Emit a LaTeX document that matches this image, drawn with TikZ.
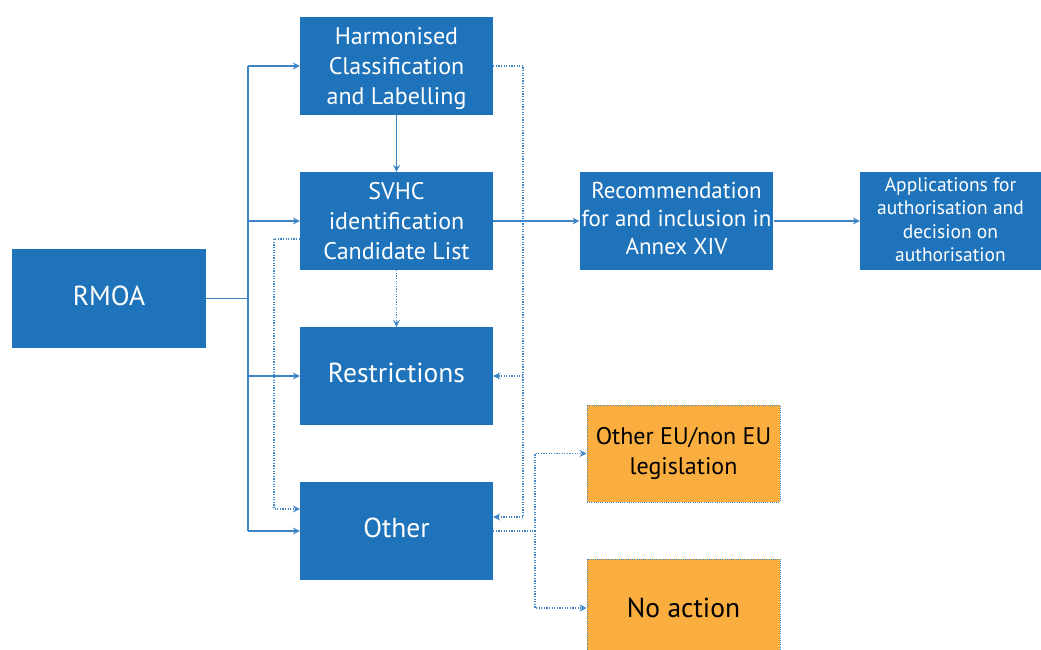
\documentclass[tikz,border=0pt]{standalone}
\usepackage{fontspec}
\setmainfont{PT Sans}
\usetikzlibrary{arrows.meta}
\definecolor{boxblue}{HTML}{1F73BA}
\definecolor{lineblue}{HTML}{3D85C6}
\definecolor{boxorange}{HTML}{FAAE40}
% move a block of centred lines up or down without changing its size
\newcommand{\liftlines}[2]{\raisebox{#1}[\height][\depth]{\begin{tabular}{@{}c@{}}#2\end{tabular}}}
\tikzset{
  bluebox/.style={draw=none, fill=boxblue, text=white, minimum width=193pt,
    minimum height=98pt, align=center, inner sep=2pt, font=\fontsize{24}{30}\selectfont},
  bigtext/.style={font=\fontsize{27.5}{30}\selectfont},
  orangebox/.style={fill=boxorange, draw=lineblue, line width=1pt,
    dash pattern=on 1pt off 1.2pt, minimum width=193pt, minimum height=97pt,
    align=center, text=black, inner sep=2pt},
  link/.style={draw=lineblue, line width=1.4pt},
  arr/.style={link, -{Stealth[length=7pt,width=7pt,inset=2.5pt]}},
  dotlink/.style={draw=lineblue, line width=1.4pt, dash pattern=on 1.2pt off 1.4pt},
  dotarr/.style={dotlink, -{Stealth[length=7pt,width=7pt,inset=2.5pt,sep=0pt]}},
}
\begin{document}
\begin{tikzpicture}[x=1pt,y=-1pt]
\useasboundingbox (0,0) rectangle (1041,650);
\begin{scope}
\clip (0,0) rectangle (1041,650);

% main boxes
\node[bluebox, bigtext, minimum width=194pt, minimum height=99pt] (rmoa) at (109,298.5) {\liftlines{-1pt}{RMOA}};
\node[bluebox] (hcl) at (396.5,66) {\liftlines{-3pt}{Harmonised\\Classification\\and Labelling}};
\node[bluebox] (svhc) at (396.5,221) {SVHC\\identification\\Candidate List};
\node[bluebox, bigtext] (restr) at (396.5,376) {\liftlines{0pt}{Restrictions}};
\node[bluebox, bigtext] (other) at (396.5,531) {\liftlines{0pt}{Other}};
\node[bluebox, font=\fontsize{23}{28}\selectfont] (recom) at (676.5,221) {\liftlines{0pt}{Recommendation\\for and inclusion in\\Annex XIV}};
\node[bluebox, minimum width=181pt, font=\fontsize{19.5}{23.5}\selectfont] (appl) at (950.5,221) {\liftlines{-1pt}{Applications for\\authorisation and\\decision on\\authorisation}};
\node[orangebox, font=\fontsize{24}{30}\selectfont] (othereu) at (683.5,453.5) {Other EU/non EU\\legislation};
\node[orangebox, minimum height=98pt, bigtext] (noaction) at (683.5,608) {No action};

% routing points
\coordinate (busT) at (248,66);
\coordinate (busB) at (248,531);
\coordinate (r1) at (523,517);
\coordinate (l1) at (274,239);
\coordinate (l2) at (274,509);
\coordinate (o1) at (535,531);

% solid connectors from RMOA
\draw[link] (rmoa.east) -- (rmoa.east -| busT);
\draw[link] (busT) -- (busB);
\draw[arr] (busT) -- (hcl.west);
\draw[arr] (busT |- svhc.west) -- (svhc.west);
\draw[arr] (busT |- restr.west) -- (restr.west);
\draw[arr] (busB) -- (other.west);

% solid chain
\draw[arr] (hcl.south) -- (svhc.north);
\draw[arr] (svhc.east) -- (recom.west);
\draw[arr] (recom.east) -- (appl.west);

% dotted connectors
\draw[dotarr] (hcl.east) -| (r1) -- (r1 -| other.east);
\draw[dotarr] (r1 |- restr.east) -- (restr.east);
\draw[dotarr] (svhc.south) -- (restr.north);
\draw[dotarr] (l1 -| svhc.west) -- (l1) -- (l2) -- (l2 -| other.west);
\draw[dotlink] (other.east) -- (o1);
\draw[dotarr] (o1) |- (othereu.west);
\draw[dotarr] (o1) |- (noaction.west);
\end{scope}
\end{tikzpicture}
\end{document}
